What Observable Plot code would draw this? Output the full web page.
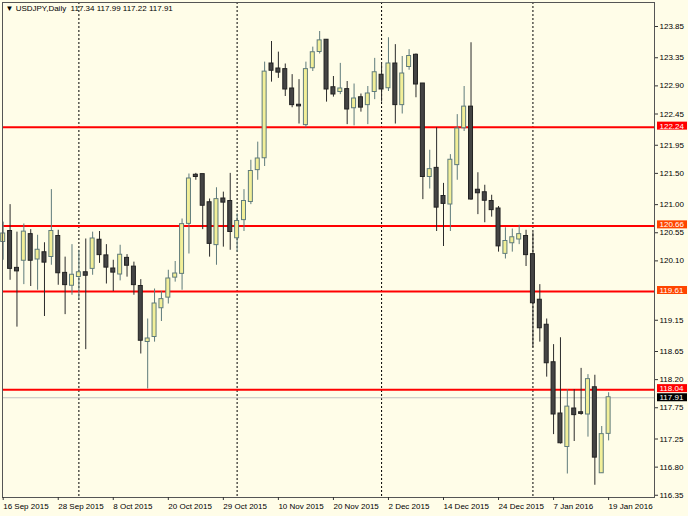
<!DOCTYPE html>
<html><head><meta charset="utf-8">
<script src="https://cdn.jsdelivr.net/npm/d3@7"></script>
<script src="https://cdn.jsdelivr.net/npm/@observablehq/plot@0.6"></script>
<style>html,body{margin:0;padding:0;background:#fffde8;} svg{display:block}</style>
</head><body><div id="chart"></div>
<script>
// Daily USDJPY bars, 16 Sep 2015 .. 19 Jan 2016 (bar index 0..88)
const opens = [120.41,120.57,119.98,120.11,120.52,120.13,120.23,120.17,120.49,119.90,
  119.71,119.85,119.91,119.98,120.43,120.18,119.97,119.89,120.14,120.00,
  119.69,118.81,118.89,119.35,119.52,119.84,119.90,120.70,121.47,121.48,
  121.03,120.36,121.09,121.05,120.47,120.76,121.05,121.56,121.75,123.25,
  123.17,123.16,122.85,122.59,122.28,123.19,123.45,123.63,122.87,122.81,
  122.84,122.55,122.71,122.60,122.81,123.07,122.87,123.25,122.60,123.21,
  123.39,122.93,121.45,121.58,121.13,121.01,121.64,122.23,122.56,121.23,
  121.19,121.05,120.93,120.22,120.39,120.45,120.49,120.20,119.47,119.07,
  118.47,117.65,117.13,117.73,117.67,117.65,118.07,116.71,117.34];
const highs = [120.72,121.00,120.56,120.69,120.60,120.51,120.39,121.24,120.59,120.16,
  120.36,120.27,120.45,120.56,120.57,120.36,120.11,120.35,120.20,120.08,
  119.80,119.17,119.65,119.61,119.95,120.09,120.77,121.49,121.50,121.48,
  121.09,121.27,121.20,121.50,120.85,121.24,121.71,122.00,123.28,123.61,
  123.44,123.25,123.08,123.00,123.28,123.52,123.77,123.64,123.05,123.26,
  122.97,122.93,122.77,122.89,123.34,123.27,123.67,123.56,123.37,123.48,
  123.41,122.93,121.87,122.23,121.34,121.80,122.44,122.89,123.59,121.51,
  121.31,121.15,120.97,120.63,120.61,120.67,120.59,120.55,119.72,119.17,
  118.76,118.87,118.04,118.04,118.38,118.28,118.27,117.45,117.99];
const lows = [120.11,119.79,119.04,119.72,119.69,119.63,119.21,120.03,119.71,119.24,
  119.55,119.49,118.68,119.87,120.06,119.73,119.61,119.78,119.84,119.55,
  118.61,118.05,118.80,119.13,119.41,119.76,119.63,120.21,121.39,120.60,
  120.16,120.03,120.32,120.27,120.24,120.57,121.00,121.39,121.61,122.96,
  123.02,122.73,122.55,122.29,122.23,123.13,123.41,122.64,122.72,122.76,
  122.28,122.26,122.48,122.28,122.68,122.64,122.81,122.29,122.45,123.15,
  122.71,121.08,121.25,120.57,120.33,120.57,121.39,122.17,121.07,120.84,
  120.71,120.80,120.24,120.13,120.24,120.36,120.01,118.71,118.80,118.24,
  117.32,117.17,116.69,117.21,117.63,117.28,116.51,116.70,117.22];
const closes = [120.53,119.98,119.94,120.56,120.11,120.27,120.08,120.57,119.91,119.72,
  119.87,119.91,119.87,120.45,120.20,120.00,119.92,120.19,120.03,119.72,
  118.83,118.85,119.41,119.48,119.81,119.89,120.68,121.41,121.45,120.99,
  120.38,121.08,121.04,120.57,120.73,121.05,121.53,121.73,123.12,123.15,
  123.12,122.85,122.60,122.58,123.16,123.43,123.62,122.85,122.77,122.85,
  122.53,122.69,122.56,122.77,123.11,122.85,123.25,122.60,123.09,123.37,
  122.93,121.45,121.56,120.96,121.02,121.71,122.21,122.56,121.09,121.19,
  121.07,120.92,120.34,120.41,120.47,120.52,120.20,119.43,119.03,118.47,
  117.65,117.19,117.76,117.64,117.66,118.20,116.96,117.32,117.91];

const dateLabels = ["16 Sep 2015","28 Sep 2015","8 Oct 2015","20 Oct 2015","29 Oct 2015","10 Nov 2015",
  "20 Nov 2015","2 Dec 2015","14 Dec 2015","24 Dec 2015","7 Jan 2016","19 Jan 2016"];
const dateTickIdx = [0,8,16,24,32,40,48,56,64,72,80,88];
const monthSeparators = [11,34,55,77];
const priceTicks = [123.85,123.35,122.90,122.45,121.95,121.50,121.00,120.55,120.10,119.15,118.65,118.20,117.75,117.25,116.80,116.35];
const levels = [122.24,120.66,119.61,118.04];
const levelColors = ["#ff0000","#ff4500","#ff4500","#ff0000"];

const bars = opens.map((o,i)=>({i, open:o, high:highs[i], low:lows[i], close:closes[i], up: closes[i] > o}));
const last = bars[bars.length-1];
const bid = last.close;
const xDomain = [-0.102, 94.67];
const xMax = xDomain[1];
const labelMap = new Map(dateTickIdx.map((d,k)=>[d, dateLabels[k]]));
const f2 = d3.format(".2f");
const levelData = levels.map((v,k)=>({v, c: levelColors[k]}));
const title = "\u25BC USDJPY,Daily  " + [last.open,last.high,last.low,last.close].map(f2).join(" ");

const chart = Plot.plot({
  width: 688, height: 516,
  marginLeft: 2, marginRight: 34, marginTop: 2, marginBottom: 19,
  style: {background: "#fffde8", fontFamily: "'Liberation Sans', Arial, sans-serif", fontSize: "8px", color: "#000", overflow: "visible"},
  x: {type: "linear", domain: xDomain, axis: null},
  y: {domain: [116.314, 124.234], axis: null},
  marks: [
    Plot.ruleX(monthSeparators, {stroke: "#000", strokeDasharray: "2,2", strokeWidth: 1}),
    Plot.ruleY([bid], {stroke: "#c0c0c0", strokeWidth: 1}),
    Plot.ruleY(levels, {stroke: "#ff0000", strokeWidth: 2}),
    Plot.ruleX(bars, {x: "i", y1: "low", y2: "high", stroke: d => d.up ? "#5f7b7b" : "#2b2b2b", strokeWidth: 1}),
    Plot.rect(bars, {x1: "i", x2: "i", y1: "open", y2: "close",
      insetLeft: -2, insetRight: -2, insetTop: -0.5, insetBottom: -0.5,
      fill: d => d.up ? "#f2ef98" : "#444444", stroke: d => d.up ? "#5f7b7b" : "#222222", strokeWidth: 1}),
    Plot.frame({stroke: "#555", strokeWidth: 1}),
    Plot.axisX(dateTickIdx, {anchor: "bottom", label: null, tickSize: 3, tickPadding: 3, textAnchor: "start",
      tickFormat: d => labelMap.get(d), fontSize: 8, stroke: "#333"}),
    Plot.axisY(priceTicks, {anchor: "right", label: null, tickSize: 3, tickPadding: 2, tickFormat: f2, fontSize: 8, stroke: "#333"}),
    Plot.rect(levelData, {x1: () => xMax, x2: () => xMax, y1: "v", y2: "v",
      insetLeft: 3, insetRight: -33, insetTop: -5, insetBottom: -3, fill: "c"}),
    Plot.text(levelData, {x: () => xMax, y: "v", text: d => f2(d.v), dx: 5, dy: -1, textAnchor: "start", fill: "#fff", fontSize: 8}),
    Plot.rect([bid], {x1: () => xMax, x2: () => xMax, y1: d => d, y2: d => d,
      insetLeft: 3, insetRight: -33, insetTop: -4, insetBottom: -4, fill: "#000"}),
    Plot.text([bid], {x: () => xMax, y: d => d, text: d => f2(d), dx: 5, textAnchor: "start", fill: "#fff", fontSize: 8}),
    Plot.text([title], {frameAnchor: "top-left", dx: 3, dy: 3, textAnchor: "start", lineAnchor: "top", fontSize: 8, fill: "#000"})
  ]
});
document.getElementById("chart").appendChild(chart);
</script>
</body></html>
